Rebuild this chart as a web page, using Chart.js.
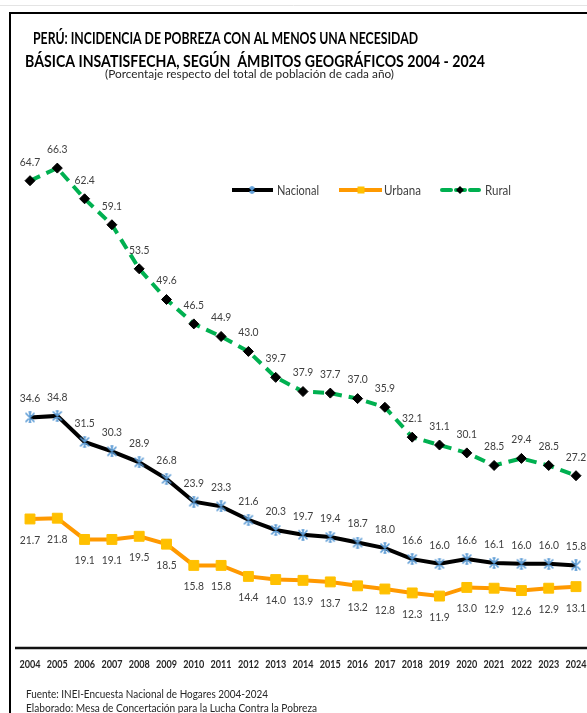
<!DOCTYPE html>
<html>
<head>
<meta charset="utf-8">
<script src="https://cdn.jsdelivr.net/npm/chart.js"></script>
<style>
html,body{margin:0;padding:0;background:#fff;}
#wrap{width:587px;height:713px;position:relative;}
</style>
</head>
<body>
<div id="wrap"><canvas id="c" width="587" height="713"></canvas></div>
<script>
const years = ["2004","2005","2006","2007","2008","2009","2010","2011","2012","2013","2014","2015","2016","2017","2018","2019","2020","2021","2022","2023","2024"];
const nacional = [34.6,34.8,31.5,30.3,28.9,26.8,23.9,23.3,21.6,20.3,19.7,19.4,18.7,18.0,16.6,16.0,16.6,16.1,16.0,16.0,15.8];
const urbana = [21.7,21.8,19.1,19.1,19.5,18.5,15.8,15.8,14.4,14.0,13.9,13.7,13.2,12.8,12.3,11.9,13.0,12.9,12.6,12.9,13.1];
const rural = [64.7,66.3,62.4,59.1,53.5,49.6,46.5,44.9,43.0,39.7,37.9,37.7,37.0,35.9,32.1,31.1,30.1,28.5,29.4,28.5,27.2];
const seriesNames = ["Nacional","Urbana","Rural"];
const titleLines = ["PERÚ: INCIDENCIA DE POBREZA CON AL MENOS UNA NECESIDAD","BÁSICA INSATISFECHA, SEGÚN  ÁMBITOS GEOGRÁFICOS 2004 - 2024"];
const subtitleText = "(Porcentaje respecto del total de población de cada año)";
const footLines = ["Fuente: INEI-Encuesta Nacional de Hogares 2004-2024","Elaborado: Mesa de Concertación para la Lucha Contra la Pobreza"];

const FONT = "Lato,'Liberation Sans',sans-serif";
const C_BLUE = '#5B9BD5', C_ORANGE = '#FF9900', C_YELLOW = '#FFC000', C_GREEN = '#00B050';

function starMarker(size, lw){
  const cv = document.createElement('canvas');
  cv.width = size; cv.height = size;
  const g = cv.getContext('2d');
  g.strokeStyle = C_BLUE; g.lineWidth = lw; g.lineCap = 'butt';
  const a = 1.5, b = size - 1.5, m = size/2;
  g.beginPath();
  g.moveTo(a,a); g.lineTo(b,b);
  g.moveTo(b,a); g.lineTo(a,b);
  g.moveTo(m,0.5); g.lineTo(m,size-0.5);
  g.moveTo(m-1.5,1); g.lineTo(m+1.5,1);
  g.moveTo(m-1.5,size-1); g.lineTo(m+1.5,size-1);
  g.stroke();
  return cv;
}
const starBig = starMarker(12, 1.6);
const starSmall = starMarker(8, 1.4);

function fitText(ctx, text, x, y, w, font){
  ctx.save();
  ctx.font = font;
  const mw = ctx.measureText(text).width;
  const s = w / mw;
  ctx.translate(x, y);
  ctx.scale(s, 1);
  ctx.textAlign = 'left';
  ctx.fillText(text, 0, 0);
  ctx.restore();
}
function centerScaled(ctx, text, cx, cy, sx){
  ctx.save();
  ctx.translate(cx, cy);
  ctx.scale(sx, 1);
  ctx.textAlign = 'center';
  ctx.fillText(text, 0, 0);
  ctx.restore();
}

const decor = {
  id: 'decor',
  afterDatasetsDraw(chart){
    const ctx = chart.ctx;
    const xs = chart.scales.x, ys = chart.scales.y;
    ctx.save();
    ctx.font = "12px " + FONT;
    ctx.fillStyle = '#404040';
    ctx.textBaseline = 'middle';
    chart.data.datasets.forEach((ds, di) => {
      const meta = chart.getDatasetMeta(di);
      meta.data.forEach((pt, i) => {
        const off = ds.labelPos === 'below' ? 21 : -19;
        centerScaled(ctx, ds.data[i].toFixed(1), pt.x, pt.y + off, 0.86);
      });
    });
    const yb = ys.getPixelForValue(ys.min);
    ctx.strokeStyle = '#111';
    ctx.lineWidth = 2.5;
    ctx.beginPath(); ctx.moveTo(15, yb); ctx.lineTo(587, yb); ctx.stroke();
    ctx.fillStyle = '#262626';
    ctx.font = "bold 11px " + FONT;
    ctx.textBaseline = 'middle';
    years.forEach((y, i) => {
      const w = ctx.measureText(y).width;
      centerScaled(ctx, y, xs.getPixelForValue(i), yb + 16, 21 / w);
    });
    ctx.restore();
  },
  beforeDraw(chart){
    const ctx = chart.ctx;
    ctx.save();
    ctx.fillStyle = '#fff';
    ctx.fillRect(0,0,chart.width,chart.height);
    ctx.strokeStyle = '#e4e4e4'; ctx.lineWidth = 1;
    ctx.beginPath(); ctx.moveTo(0,5.5); ctx.lineTo(587,5.5); ctx.stroke();
    ctx.strokeStyle = '#000'; ctx.lineWidth = 2;
    ctx.beginPath(); ctx.moveTo(10,713); ctx.lineTo(10,13); ctx.lineTo(587,13); ctx.stroke();
    ctx.fillStyle = '#000';
    ctx.textBaseline = 'alphabetic';
    fitText(ctx, titleLines[0], 33, 44, 385, "bold 17px " + FONT);
    fitText(ctx, titleLines[1], 25, 67, 460, "bold 17px " + FONT);
    ctx.fillStyle = '#262626';
    fitText(ctx, subtitleText, 105, 78, 289, "12px " + FONT);
    ctx.fillStyle = '#262626';
    fitText(ctx, footLines[0], 26, 698, 242, "11px " + FONT);
    fitText(ctx, footLines[1], 26, 712, 291, "11px " + FONT);
    const ly = 190;
    ctx.lineWidth = 4;
    ctx.strokeStyle = '#000';
    ctx.beginPath(); ctx.moveTo(232,ly); ctx.lineTo(273,ly); ctx.stroke();
    ctx.drawImage(starSmall, 252-4, ly-4);
    ctx.strokeStyle = C_ORANGE;
    ctx.beginPath(); ctx.moveTo(339,ly); ctx.lineTo(382,ly); ctx.stroke();
    ctx.fillStyle = C_YELLOW; ctx.fillRect(361-3.5, ly-3.5, 7, 7);
    ctx.strokeStyle = C_GREEN;
    ctx.lineCap = 'round';
    [[442,451],[456,465],[470,479]].forEach(s => { ctx.beginPath(); ctx.moveTo(s[0],ly); ctx.lineTo(s[1],ly); ctx.stroke(); });
    ctx.fillStyle = '#000';
    ctx.beginPath(); ctx.moveTo(460,ly-4); ctx.lineTo(464,ly); ctx.lineTo(460,ly+4); ctx.lineTo(456,ly); ctx.closePath(); ctx.fill();
    ctx.fillStyle = '#404040';
    ctx.textBaseline = 'middle';
    fitText(ctx, seriesNames[0], 277, ly+1, 42, "13px " + FONT);
    fitText(ctx, seriesNames[1], 384, ly+1, 37, "13px " + FONT);
    fitText(ctx, seriesNames[2], 485, ly+1, 26, "13px " + FONT);
    ctx.restore();
  }
};

new Chart(document.getElementById('c'), {
  type: 'line',
  data: {
    labels: years,
    datasets: [
      { label: seriesNames[0], data: nacional, borderColor: '#000', borderWidth: 4,
        pointStyle: starBig, pointRadius: 6, pointHoverRadius: 6, clip: false, labelPos: 'above', order: 2 },
      { label: seriesNames[1], data: urbana, borderColor: C_ORANGE, borderWidth: 4,
        pointStyle: 'rect', pointRadius: 7, pointBackgroundColor: C_YELLOW, pointBorderColor: C_YELLOW,
        pointBorderWidth: 1, clip: false, labelPos: 'below', order: 3 },
      { label: seriesNames[2], data: rural, borderColor: C_GREEN, borderWidth: 4, borderDash: [11,7],
        pointStyle: 'rectRot', pointRadius: 5, pointBackgroundColor: '#000', pointBorderColor: '#000',
        pointBorderWidth: 1, clip: false, labelPos: 'above', order: 1 }
    ]
  },
  options: {
    responsive: false,
    animation: false,
    devicePixelRatio: 1,
    layout: { padding: { left: 30, right: 11, top: 139, bottom: 65 } },
    plugins: { legend: { display: false }, title: { display: false }, tooltip: { enabled: false } },
    elements: { line: { tension: 0 } },
    scales: {
      x: { display: false },
      y: { display: false, min: 5.3, max: 70 }
    }
  },
  plugins: [decor]
});
</script>
</body>
</html>
